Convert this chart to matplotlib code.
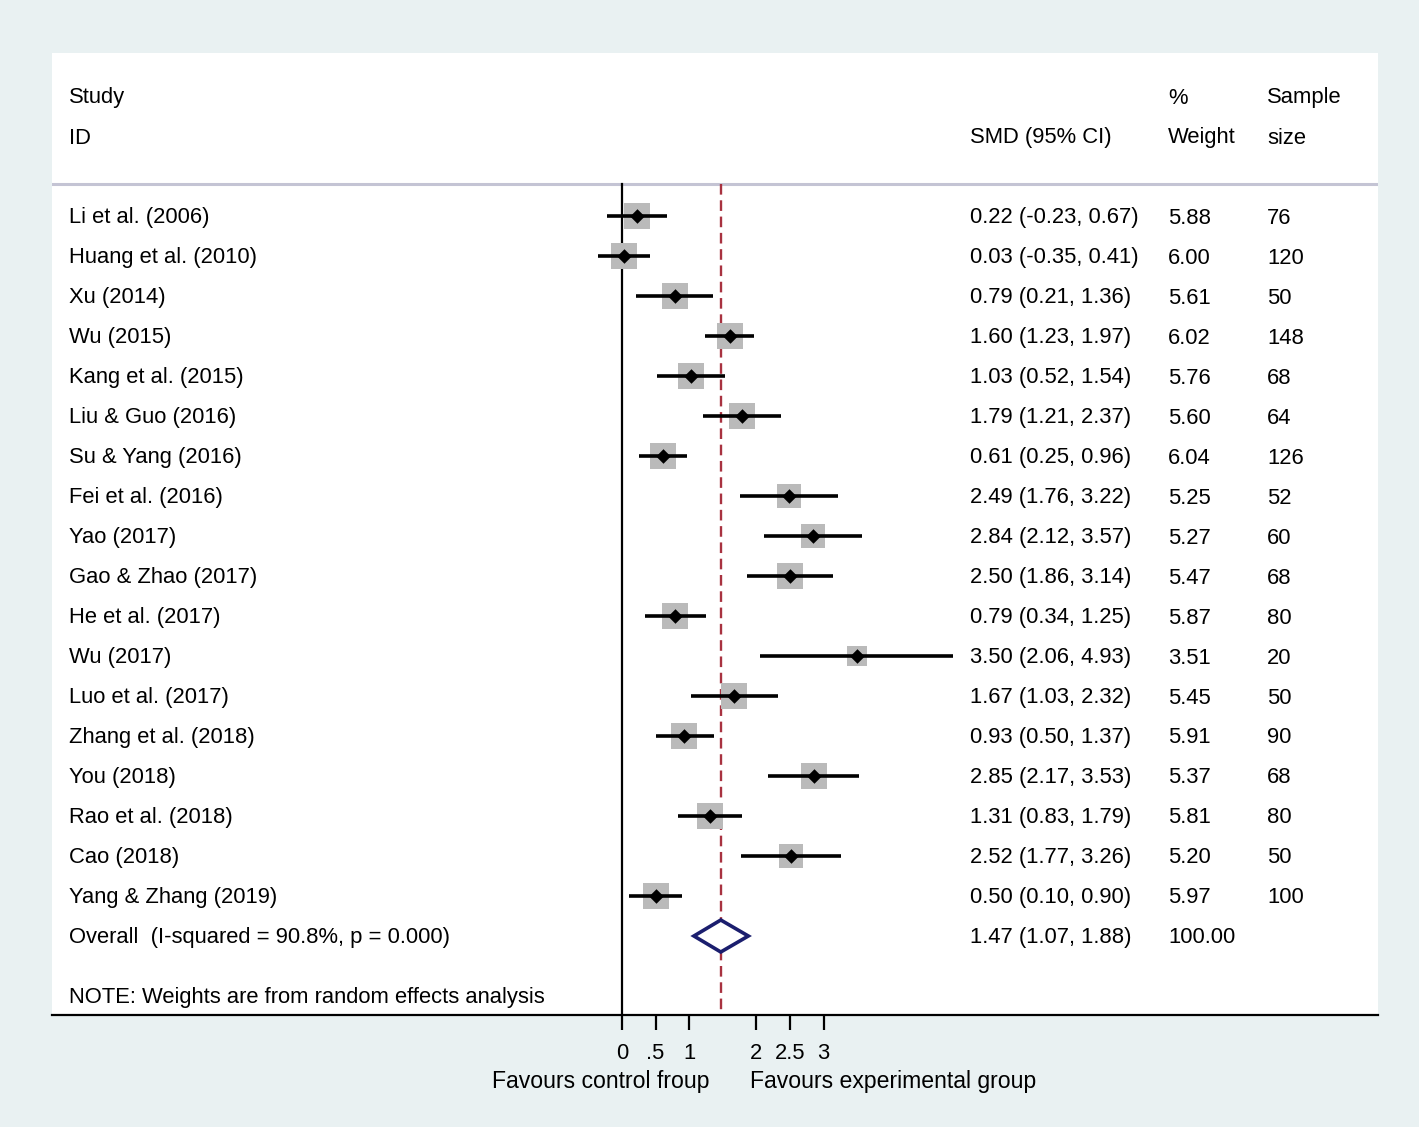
import matplotlib
matplotlib.use("Agg")
import matplotlib.pyplot as plt
from matplotlib.patches import Polygon

plt.rcParams['font.family'] = ['Liberation Sans', 'DejaVu Sans']

studies = ["Li et al. (2006)", "Huang et al. (2010)", "Xu (2014)", "Wu (2015)",
           "Kang et al. (2015)", "Liu & Guo (2016)", "Su & Yang (2016)", "Fei et al. (2016)",
           "Yao (2017)", "Gao & Zhao (2017)", "He et al. (2017)", "Wu (2017)",
           "Luo et al. (2017)", "Zhang et al. (2018)", "You (2018)", "Rao et al. (2018)",
           "Cao (2018)", "Yang & Zhang (2019)"]
smd = [0.22, 0.03, 0.79, 1.60, 1.03, 1.79, 0.61, 2.49, 2.84, 2.50, 0.79, 3.50,
       1.67, 0.93, 2.85, 1.31, 2.52, 0.50]
lower = [-0.23, -0.35, 0.21, 1.23, 0.52, 1.21, 0.25, 1.76, 2.12, 1.86, 0.34, 2.06,
         1.03, 0.50, 2.17, 0.83, 1.77, 0.10]
upper = [0.67, 0.41, 1.36, 1.97, 1.54, 2.37, 0.96, 3.22, 3.57, 3.14, 1.25, 4.93,
         2.32, 1.37, 3.53, 1.79, 3.26, 0.90]
weights = [5.88, 6.00, 5.61, 6.02, 5.76, 5.60, 6.04, 5.25, 5.27, 5.47, 5.87, 3.51,
           5.45, 5.91, 5.37, 5.81, 5.20, 5.97]
sample_size = [76, 120, 50, 148, 68, 64, 126, 52, 60, 68, 80, 20, 50, 90, 68, 80, 50, 100]

overall = 1.47
overall_lo = 1.07
overall_hi = 1.88
overall_label = "Overall  (I-squared = 90.8%, p = 0.000)"
xticks = [0, 0.5, 1, 2, 2.5, 3]
xticklabels = ["0", ".5", "1", "2", "2.5", "3"]

bg = '#E9F1F2'
fs = 15.8

fig = plt.figure(figsize=(14.19, 11.27), dpi=100, facecolor=bg)
ax = fig.add_axes([52 / 1419, (1127 - 1015) / 1127, 1326 / 1419, 962 / 1127])
ax.set_facecolor('white')

ax.set_xlim(-8.482, 11.25)
ax.set_ylim(19.975, -4.075)

n = len(studies)
rows = list(range(n))


def put(x, y, s):
    ax.text(x, y + 0.05, s, fontsize=fs, va='center')


# header
name_x, smd_x, w_x, ss_x = -8.23, 5.18, 8.125, 9.60
put(name_x, -3, "Study")
put(name_x, -2, "ID")
put(smd_x, -2, "SMD (95% CI)")
put(w_x, -3, "%")
put(w_x, -2, "Weight")
put(ss_x, -3, "Sample")
put(ss_x, -2, "size")
ax.axhline(-0.8, color='#C4C4D4', lw=2.2, zorder=1)

# reference lines
ax.plot([0, 0], [-0.8, 19.975], color='black', lw=1.6, zorder=2)
ax.plot([overall, overall], [-0.8, 19.975], color='#A83240', lw=1.7,
        dashes=(4.5, 2.4), zorder=2)

# studies
for i in rows:
    side = 19.0 * (weights[i] / 5.88) ** 0.5
    ax.scatter(smd[i], i, marker='s', s=side ** 2, color='#BABABA', lw=0, zorder=3)
    ax.plot([lower[i], upper[i]], [i, i], color='black', lw=2.6, zorder=4,
            solid_capstyle='butt')
    ax.scatter(smd[i], i, marker='D', s=55, color='black', lw=0, zorder=5)
    put(name_x, i, studies[i])
    put(smd_x, i, f"{smd[i]:.2f} ({lower[i]:.2f}, {upper[i]:.2f})")
    put(w_x, i, f"{weights[i]:.2f}")
    put(ss_x, i, str(sample_size[i]))

# overall
yo = n
diamond = Polygon([[overall_lo, yo], [overall, yo - 0.4], [overall_hi, yo], [overall, yo + 0.4]],
                  closed=True, facecolor='white', edgecolor='#1B1E6E', lw=2.6, zorder=6)
ax.add_patch(diamond)
put(name_x, yo, overall_label)
put(smd_x, yo, f"{overall:.2f} ({overall_lo:.2f}, {overall_hi:.2f})")
put(w_x, yo, "100.00")
put(name_x, 19.5, "NOTE: Weights are from random effects analysis")

# axis
for s in ['top', 'left', 'right']:
    ax.spines[s].set_visible(False)
ax.spines['bottom'].set_linewidth(1.6)
ax.set_yticks([])
ax.set_xticks(xticks)
ax.set_xticklabels(xticklabels, fontsize=fs)
ax.tick_params(axis='x', length=11, width=1.6, pad=9)

ax.text(1.30, -0.069, "Favours control froup", fontsize=16.6, ha='right', va='center',
        transform=ax.get_xaxis_transform())
ax.text(1.90, -0.069, "Favours experimental group", fontsize=16.6, ha='left', va='center',
        transform=ax.get_xaxis_transform())

fig.savefig("out.png", dpi=100, facecolor=bg)
